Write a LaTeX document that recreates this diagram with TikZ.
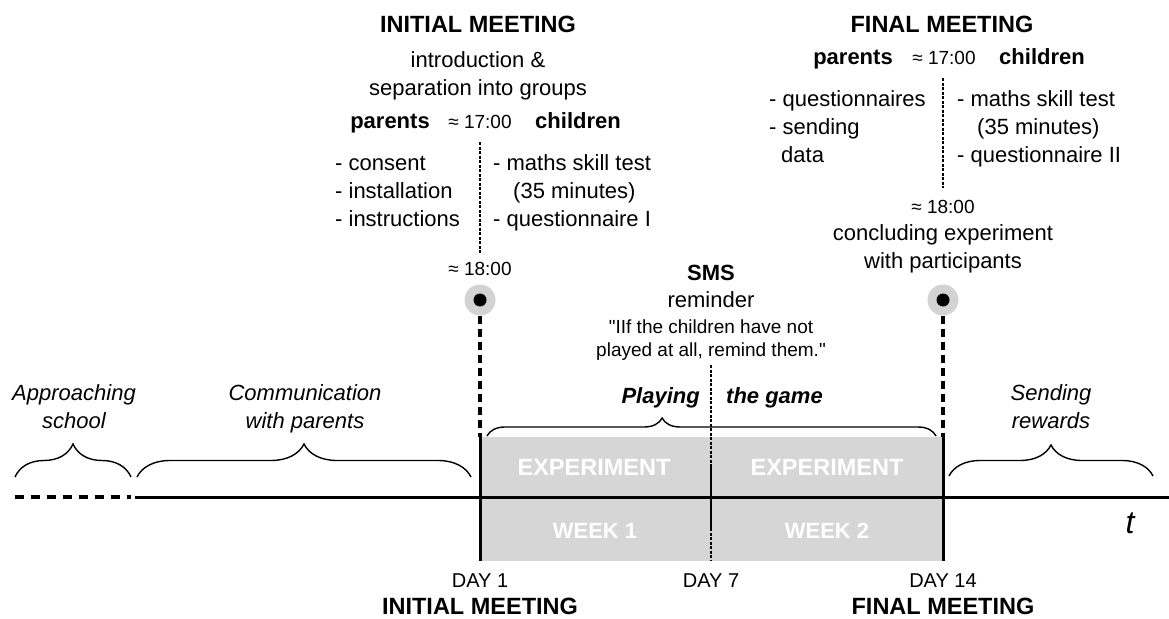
\documentclass[tikz,border=0pt]{standalone}
\usepackage{fontspec}
\setmainfont{Liberation Sans}
\usepackage{xcolor}
\usetikzlibrary{decorations.pathreplacing,positioning}
\definecolor{boxgrey}{HTML}{D6D6D6}
\definecolor{ringgrey}{HTML}{D3D3D3}
\tikzset{
  lbl/.style={inner sep=0pt,font=\fontsize{22}{28}\selectfont,align=center},
  lbold/.style={inner sep=0pt,font=\fontsize{22}{28}\selectfont\bfseries},
  lsmall/.style={inner sep=0pt,font=\fontsize{19}{23}\selectfont,align=center},
  lday/.style={inner sep=0pt,font=\fontsize{20}{24}\selectfont},
  lhead/.style={inner sep=0pt,font=\fontsize{23.5}{28}\selectfont\bfseries},
  lphase/.style={inner sep=0pt,font=\fontsize{22}{28}\selectfont\itshape,align=center},
  lgame/.style={inner sep=0pt,font=\fontsize{22}{28}\selectfont\bfseries\itshape},
  lbox/.style={inner sep=0pt,text=white,font=\fontsize{#1}{28}\selectfont\bfseries},
  phase brace/.style={decorate,decoration={brace,amplitude=#1},line width=1.4pt},
  ring/.style={circle,fill=ringgrey,minimum size=31pt,inner sep=0pt},
  meetline/.style={line width=4pt,dash pattern=on 8pt off 5pt},
  splitline/.style={line width=1.2pt,dash pattern=on 3pt off 1.5pt},
}

\begin{document}
\begin{tikzpicture}[x=1pt,y=-1pt]
\useasboundingbox (0,0) rectangle (1169,618);

% the two weeks
\fill[boxgrey] (480,437) rectangle (943,561);
\node[lbox=23.5,anchor=base] (exp1) at (594,475) {EXPERIMENT};
\node[lbox=23.5,anchor=base] (exp2) at (827,475) {EXPERIMENT};
\node[lbox=22,anchor=base] (wk1) at (595,538) {WEEK 1};
\node[lbox=22,anchor=base] (wk2) at (827,538) {WEEK 2};

% time axis
\coordinate (a0) at (15,497);
\coordinate (a1) at (131,497);
\coordinate (a2) at (135,497);
\coordinate (a3) at (1169,497);
\draw[line width=4pt,dash pattern=on 9pt off 7pt] (a0) -- (a1);
\draw[line width=3pt] (a2) -- (a3);
\node[inner sep=0pt,font=\fontsize{32}{32}\selectfont\itshape,anchor=base] (t) at (1130,533) {t};

% meetings on the axis
\node[ring] (m1) at (480,300) {};
\node[ring] (m2) at (943,300) {};
\fill (m1.center) circle (6.5);
\fill (m2.center) circle (6.5);
\coordinate (b1) at (480,437);
\coordinate (b2) at (943,437);
\coordinate (e1) at (480,561);
\coordinate (e2) at (943,561);
\draw[meetline] (m1.south) -- (b1);
\draw[meetline] (m2.south) -- (b2);
\draw[line width=3pt] (b1) -- (e1);
\draw[line width=3pt] (b2) -- (e2);

% day 7
\coordinate (s1) at (711,365);
\coordinate (s2) at (711,467);
\coordinate (s3) at (711,528);
\coordinate (s4) at (711,561);
\draw[splitline] (s1) -- (s2);
\draw[line width=1.8pt] (s2) -- (s3);
\draw[splitline] (s3) -- (s4);

\node[lday,anchor=base] (day1) at (480,587) {DAY 1};
\node[lday,anchor=base] (day7) at (711,587) {DAY 7};
\node[lday,anchor=base] (day14) at (943,587) {DAY 14};
\node[lhead,anchor=base] (im2) at (480,614) {INITIAL MEETING};
\node[lhead,anchor=base] (fm2) at (943,614) {FINAL MEETING};

% initial meeting (base of a multi-line node = its last line)
\node[lhead,anchor=base] (im) at (478,33) {INITIAL MEETING};
\node[lbl,anchor=base] (intro) at (478,95) {introduction \&\\separation into groups};
\node[lbold,anchor=base] (par1) at (390,128) {parents};
\node[lsmall,anchor=base] (t17a) at (480,128) {≈ 17:00};
\node[lbold,anchor=base] (chi1) at (578,128) {children};
\node[lbl,align=left,anchor=base west] (plist1) at (335,226) {- consent\\- installation\\- instructions};
\node[lbl,align=left,anchor=base west] (clist1) at (493,226) {- maths skill test\\\hspace*{20pt}(35 minutes)\\- questionnaire I};
\coordinate (g1) at (480,142);
\coordinate (g2) at (480,253);
\draw[splitline] (g1) -- (g2);
\node[lsmall,anchor=base] (t18a) at (480,275) {≈ 18:00};

% final meeting
\node[lhead,anchor=base] (fm) at (942,33) {FINAL MEETING};
\node[lbold,anchor=base] (par2) at (853,64) {parents};
\node[lsmall,anchor=base] (t17b) at (944,64) {≈ 17:00};
\node[lbold,anchor=base] (chi2) at (1042,64) {children};
\node[lbl,align=left,anchor=base west] (plist2) at (769,162) {- questionnaires\\- sending\\\hspace*{12pt}data};
\node[lbl,align=left,anchor=base west] (clist2) at (957,162) {- maths skill test\\\hspace*{20pt}(35 minutes)\\- questionnaire II};
\coordinate (h1) at (943,78);
\coordinate (h2) at (943,188);
\draw[splitline] (h1) -- (h2);
\node[lsmall,anchor=base] (t18b) at (943,213) {≈ 18:00};
\node[lbl,anchor=base] (concl) at (943,268) {concluding experiment\\with participants};

% reminder
\node[lbold,anchor=base] (sms) at (711,280) {SMS};
\node[lbl,anchor=base] (remind) at (711,307) {reminder};
\node[lsmall,anchor=base] (quote) at (711,356) {\textquotedbl IIf the children have not\\played at all, remind them.\textquotedbl};

% phases
\coordinate (p1) at (487,436);
\coordinate (p2) at (936,436);
\draw[phase brace=18pt,decoration={aspect=0.39}] (p1) -- (p2);
\node[lgame,anchor=base east] (play) at (700,403) {Playing};
\node[lgame,anchor=base west] (game) at (726,403) {the game};

\coordinate (q1) at (15,477);
\coordinate (q2) at (131,477);
\draw[phase brace=33pt] (q1) -- (q2);
\node[lphase,anchor=base] (appr) at (74,428) {Approaching\\school};

\coordinate (q3) at (137,477);
\coordinate (q4) at (471,477);
\draw[phase brace=33pt] (q3) -- (q4);
\node[lphase,anchor=base] (comm) at (305,428) {Communication\\with parents};

\coordinate (q5) at (949,476);
\coordinate (q6) at (1153,476);
\draw[phase brace=31pt] (q5) -- (q6);
\node[lphase,anchor=base] (rew) at (1051,428) {Sending\\rewards};
\end{tikzpicture}
\end{document}
